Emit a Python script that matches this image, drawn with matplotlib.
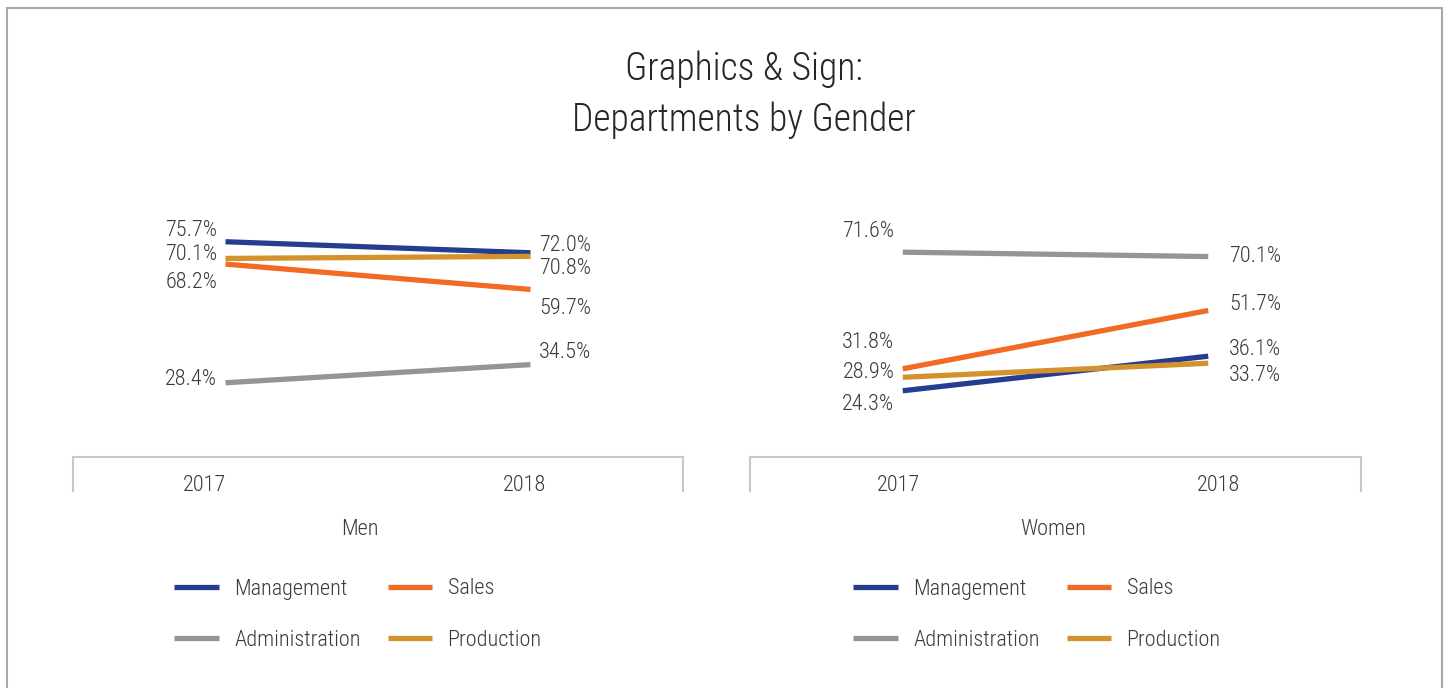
"""Graphics & Sign: departments by gender, slope chart for 2017 vs 2018."""

from __future__ import annotations

import matplotlib

matplotlib.use("Agg")

import matplotlib.pyplot as plt  # noqa: E402
from matplotlib import font_manager  # noqa: E402
from matplotlib.patches import Rectangle  # noqa: E402

YEARS = ["2017", "2018"]
DEPARTMENTS = ["Management", "Sales", "Administration", "Production"]

MEN_MANAGEMENT = [75.7, 72.0]
MEN_SALES = [68.2, 59.7]
MEN_ADMINISTRATION = [28.4, 34.5]
MEN_PRODUCTION = [70.1, 70.8]

WOMEN_MANAGEMENT = [24.3, 36.1]
WOMEN_SALES = [31.8, 51.7]
WOMEN_ADMINISTRATION = [71.6, 70.1]
WOMEN_PRODUCTION = [28.9, 33.7]

COLORS = {
    "Management": "#253D8E",
    "Sales": "#F26A24",
    "Administration": "#939598",
    "Production": "#D4922C",
}
TEXT_COLOR = "#3A3A3A"
AXIS_COLOR = "#C8C8C8"

# Смещения подписей (в пунктах) — в оригинале они раздвинуты вручную.
MEN_LABEL_OFFSETS = {
    "Management": [(0, 8), (0, 5.5)],
    "Sales": [(0, -13.5), (0, -13.5)],
    "Administration": [(0, 2), (0, 8.5)],
    "Production": [(0, 2.5), (0, -9)],
}
WOMEN_LABEL_OFFSETS = {
    "Management": [(0, -10), (9, 4.5)],
    "Sales": [(0, 18.8), (9, 4)],
    "Administration": [(0, 14.8), (9, 0)],
    "Production": [(0, 3.3), (9, -8.5)],
}
# Подписи годов в оригинале стоят не точно под категориями.
MEN_TICK_POS = [-0.07, 0.98]
WOMEN_TICK_POS = [-0.015, 1.035]


def pick_font() -> str:
    """Ищем узкий шрифт, похожий на оригинальный."""
    available = {f.name for f in font_manager.fontManager.ttflist}
    for name in ("Liberation Sans Narrow", "Roboto Condensed", "Roboto", "DejaVu Sans"):
        if name in available:
            return name
    return "DejaVu Sans"


def draw_panel(ax, series: dict, offsets: dict, ylim, tick_pos, label: str, label_x: float,
               legend_x: float, fig):
    x = list(range(len(YEARS)))
    handles = {}
    for dept in DEPARTMENTS:
        (line,) = ax.plot(x, series[dept], color=COLORS[dept], lw=3.8, solid_capstyle="butt", label=dept)
        handles[dept] = line
        for i, value in enumerate(series[dept]):
            dx, dy = offsets[dept][i]
            ax.annotate(
                f"{value:.1f}%",
                (x[i], value),
                xytext=((-6 if i == 0 else 6) + dx, dy),
                textcoords="offset points",
                ha="right" if i == 0 else "left",
                va="center",
                fontsize=16,
                fontweight="light",
                color=TEXT_COLOR,
            )

    ax.set_xlim(-0.5, 1.5)
    ax.set_ylim(*ylim)
    for side in ("top", "left", "right"):
        ax.spines[side].set_visible(False)
    ax.spines["bottom"].set_color(AXIS_COLOR)
    ax.spines["bottom"].set_linewidth(1.5)
    ax.set_yticks([])
    ax.set_xticks(tick_pos, labels=YEARS)
    ax.tick_params(axis="x", which="major", length=0, pad=13, labelsize=16, labelcolor=TEXT_COLOR)
    for tick in ax.get_xticklabels():
        tick.set_fontweight("light")
    ax.set_xticks([-0.5, 1.5], minor=True)
    ax.tick_params(axis="x", which="minor", length=25, width=1.5, color=AXIS_COLOR, direction="out")
    ax.set_xlabel(label, fontsize=16, fontweight="light", color=TEXT_COLOR)
    ax.xaxis.set_label_coords(label_x, -0.243)

    order = ["Management", "Administration", "Sales", "Production"]
    fig.legend(
        [handles[d] for d in order],
        order,
        loc="center",
        bbox_to_anchor=(legend_x, 1 - 614.5 / 688),
        ncol=2,
        frameon=False,
        prop={"size": 16, "weight": "light"},
        labelcolor=TEXT_COLOR,
        handlelength=2.0,
        handletextpad=0.7,
        columnspacing=1.2,
        labelspacing=1.35,
    )


def main() -> None:
    plt.rcParams["font.family"] = [pick_font(), "DejaVu Sans"]

    fig = plt.figure(figsize=(14.49, 6.88), dpi=100)
    fig.patches.append(
        Rectangle((7 / 1449, -0.05), 1435 / 1449, 1.05 - 8 / 688, transform=fig.transFigure,
                  fill=False, edgecolor="#A8A8A8", lw=1.5)
    )

    fig.text(744 / 1449, 1 - 95 / 688, "Graphics & Sign:\nDepartments by Gender", ha="center",
             va="center", fontsize=27, fontweight="light", color="#262626", linespacing=1.45)

    bottom = 1 - 457 / 688
    height = 257 / 688
    ax_men = fig.add_axes([73 / 1449, bottom, 610 / 1449, height])
    ax_women = fig.add_axes([750 / 1449, bottom, 611 / 1449, height])

    men = {
        "Management": MEN_MANAGEMENT,
        "Sales": MEN_SALES,
        "Administration": MEN_ADMINISTRATION,
        "Production": MEN_PRODUCTION,
    }
    women = {
        "Management": WOMEN_MANAGEMENT,
        "Sales": WOMEN_SALES,
        "Administration": WOMEN_ADMINISTRATION,
        "Production": WOMEN_PRODUCTION,
    }
    draw_panel(ax_men, men, MEN_LABEL_OFFSETS, (3.5, 89.7), MEN_TICK_POS, "Men", 0.470,
               358 / 1449, fig)
    draw_panel(ax_women, women, WOMEN_LABEL_OFFSETS, (1.7, 89.4), WOMEN_TICK_POS, "Women", 0.496,
               1037 / 1449, fig)

    fig.savefig("out.png", dpi=100)
    plt.close(fig)


if __name__ == "__main__":
    main()
